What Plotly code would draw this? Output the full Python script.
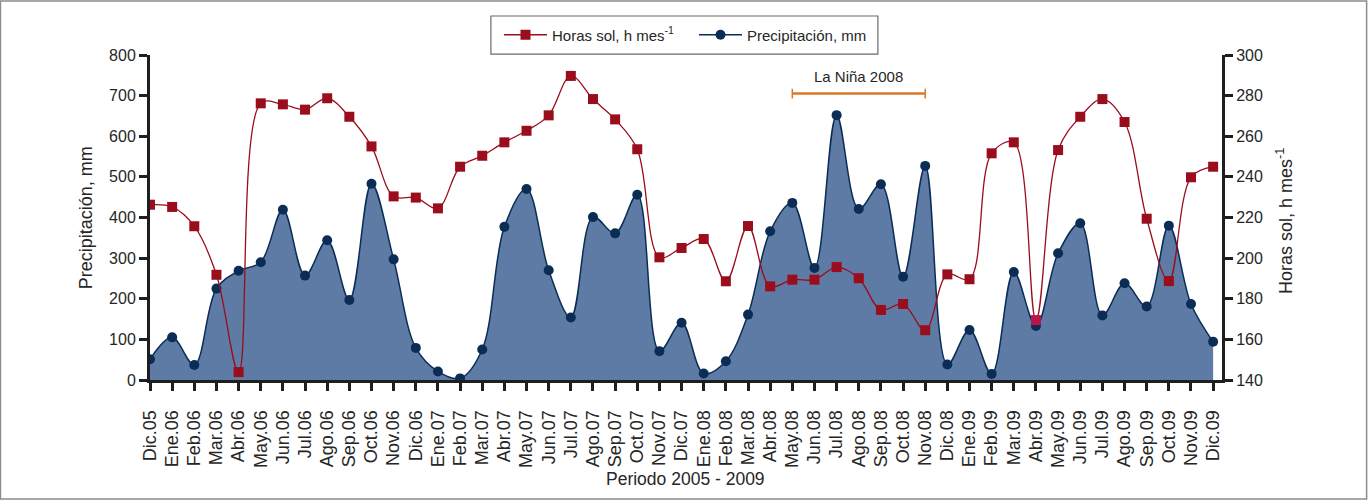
import plotly.graph_objects as go

# months Dic.05 .. Dic.09
meses = [
    "Dic.05",
    "Ene.06", "Feb.06", "Mar.06", "Abr.06", "May.06", "Jun.06",
    "Jul.06", "Ago.06", "Sep.06", "Oct.06", "Nov.06", "Dic.06",
    "Ene.07", "Feb.07", "Mar.07", "Abr.07", "May.07", "Jun.07",
    "Jul.07", "Ago.07", "Sep.07", "Oct.07", "Nov.07", "Dic.07",
    "Ene.08", "Feb.08", "Mar.08", "Abr.08", "May.08", "Jun.08",
    "Jul.08", "Ago.08", "Sep.08", "Oct.08", "Nov.08", "Dic.08",
    "Ene.09", "Feb.09", "Mar.09", "Abr.09", "May.09", "Jun.09",
    "Jul.09", "Ago.09", "Sep.09", "Oct.09", "Nov.09", "Dic.09",
]

precipitacion = [
    51,
    105, 37, 225, 269, 290, 419,
    257, 344, 197, 483, 297, 79,
    21, 4, 75, 377, 470, 270,
    154, 401, 361, 456, 71, 141,
    16, 46, 161, 366, 436, 276,
    652, 421, 482, 254, 527, 38,
    123, 15, 266, 133, 312, 386,
    159, 238, 181, 380, 187, 94,
]

horas_sol = [
    226.3,
    225.2, 215.7, 191.8, 143.9, 276.2, 275.7,
    273.1, 278.7, 269.6, 255.0, 230.4, 229.8,
    224.5, 245.0, 250.4, 257.0, 262.7, 270.3,
    289.7, 278.3, 268.3, 253.6, 200.4, 205.0,
    209.4, 188.6, 215.8, 186.1, 189.4, 189.4,
    195.6, 190.1, 174.5, 177.4, 164.5, 192.0,
    189.6, 251.6, 257.0, 169.5, 253.2, 269.6,
    278.3, 267.0, 219.4, 188.7, 239.8, 245.0,
]

nina_inicio, nina_fin = "May.08", "Nov.08"

x = list(range(len(meses)))
txt = "#262626"
rojo = "#990d1d"
azul = "#0b2d55"
naranja = "#d9782a"

# one square in the original is drawn in a lighter crimson
colores_rojo = [rojo] * len(meses)
colores_rojo[meses.index("Abr.09")] = "#b8164a"

fig = go.Figure()

# area trace (legend entry is drawn by a line-only twin below)
fig.add_trace(go.Scatter(
    x=x, y=precipitacion, name="Precipitación, mm", showlegend=False,
    mode="lines+markers", fill="tozeroy", fillcolor="#5d7ba5",
    line=dict(color=azul, width=1.5, shape="spline", smoothing=1),
    marker=dict(symbol="circle", size=10, color=azul),
))
fig.add_trace(go.Scatter(
    x=x, y=horas_sol, name="Horas sol, h mes<sup>-1</sup>",
    mode="lines+markers", yaxis="y2",
    line=dict(color=rojo, width=1.3, shape="spline", smoothing=1),
    marker=dict(symbol="square", size=10, color=colores_rojo),
))
fig.add_trace(go.Scatter(
    x=[None], y=[None], name="Precipitación, mm", mode="lines+markers",
    line=dict(color=azul, width=1.5),
    marker=dict(symbol="circle", size=10, color=azul),
))

ejes = dict(
    showline=True, linecolor="#1e1e1e", linewidth=3,
    ticks="outside", ticklen=8, tickwidth=2.5, tickcolor="#1e1e1e",
    showgrid=False, zeroline=False, automargin=False,
    tickfont=dict(family="Liberation Sans, Arial", size=16, color=txt),
)

fig.update_layout(
    width=1370, height=501,
    margin=dict(l=150, r=148, t=55, b=121),
    plot_bgcolor="white", paper_bgcolor="white",
    font=dict(family="Liberation Sans, Arial", color=txt),
    xaxis=dict(
        **ejes, range=[0, 48.4], tickmode="array", tickvals=x,
        ticktext=meses, tickangle=-90, ticklabelstandoff=12,
    ),
    yaxis=dict(**ejes, range=[0, 800], dtick=100),
    yaxis2=dict(**ejes, range=[140, 300], dtick=20,
                overlaying="y", side="right"),
    showlegend=True,
    legend=dict(
        orientation="h", xref="container", yref="container",
        x=499 / 1370, xanchor="left", y=1 - 35 / 501, yanchor="middle",
        bgcolor="rgba(0,0,0,0)", itemwidth=43, entrywidth=137,
        font=dict(size=15, color=txt),
    ),
)
fig.update_xaxes(tickfont_size=18)

i0, i1 = meses.index(nina_inicio), meses.index(nina_fin)
shapes = [
    # figure frame
    dict(type="rect", xref="paper", yref="paper",
         x0=-0.1395, x1=1.1349, y0=-0.366, y1=1.166,
         line=dict(color="#8c8c8c", width=1.5)),
    # legend box
    dict(type="rect", xref="paper", yref="paper",
         x0=0.318, x1=0.679, y0=1.003, y1=1.12,
         line=dict(color="#6b6b6b", width=1.2), fillcolor="white",
         layer="below"),
    # La Niña bracket
    dict(type="line", x0=i0, x1=i1, y0=705, y1=705,
         line=dict(color=naranja, width=2.5)),
    dict(type="line", x0=i0, x1=i0, y0=693, y1=717,
         line=dict(color=naranja, width=1.5)),
    dict(type="line", x0=i1, x1=i1, y0=693, y1=717,
         line=dict(color=naranja, width=1.5)),
]
fig.update_layout(shapes=shapes)

fig.add_annotation(x=(i0 + i1) / 2, y=747, text="La Niña 2008",
                   showarrow=False, font=dict(size=15, color=txt))
fig.add_annotation(xref="paper", yref="paper", x=0.4995, y=-0.306,
                   xanchor="center", yanchor="middle",
                   text="Periodo 2005 - 2009", showarrow=False,
                   font=dict(size=17.5, color=txt))
fig.add_annotation(xref="paper", yref="paper", x=-0.06, y=0.5,
                   xanchor="center", yanchor="middle",
                   text="Precipitación, mm", textangle=-90,
                   showarrow=False, font=dict(size=18, color=txt))
fig.add_annotation(xref="paper", yref="paper", x=1.059, y=0.49,
                   xanchor="center", yanchor="middle",
                   text="Horas sol, h mes<sup>-1</sup>", textangle=-90,
                   showarrow=False, font=dict(size=18, color=txt))

# page has a default 8px body margin; remove it so the chart sits at 0,0
fig.write_html("out.html", config={"displayModeBar": False},
               post_script="document.body.style.margin='0';")
